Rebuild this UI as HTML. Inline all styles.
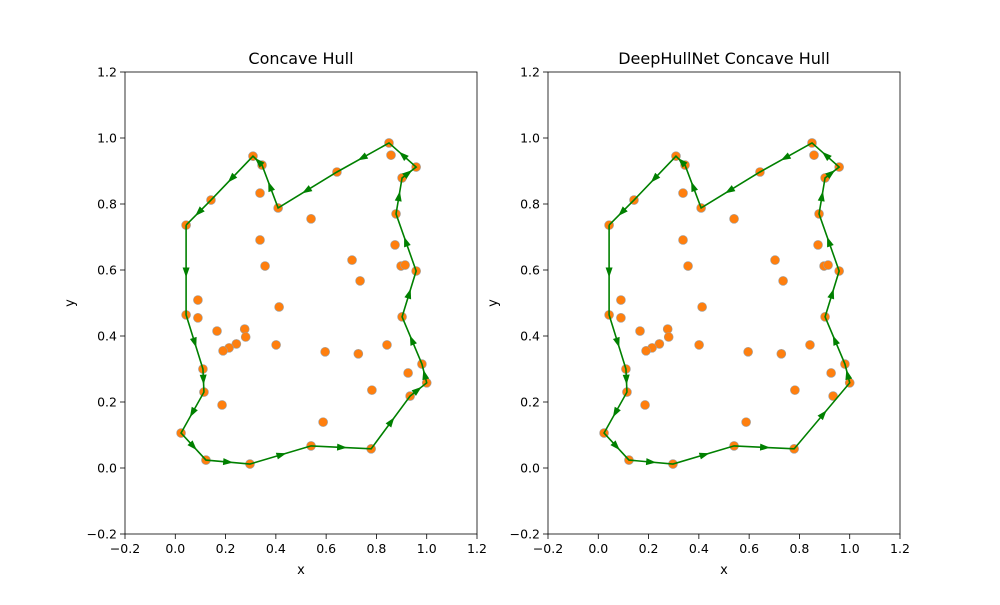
<!DOCTYPE html>
<html><head><meta charset="utf-8"><style>
body{margin:0;background:#fff}
svg{font-family:"DejaVu Sans","Liberation Sans",sans-serif}
</style></head><body>
<svg id="fig" width="1000" height="600" viewBox="0 0 1000 600" xmlns="http://www.w3.org/2000/svg">
<rect width="1000" height="600" fill="#fff"/>
</svg>
<script>
const pointsX=[0.043,0.142,0.309,0.345,0.337,0.409,0.337,0.357,0.540,0.643,0.850,0.858,0.958,0.902,0.878,0.874,0.898,0.914,0.958,0.902,0.703,0.735,0.413,0.090,0.090,0.043,0.166,0.276,0.280,0.243,0.214,0.190,0.401,0.596,0.728,0.842,0.981,1.000,0.926,0.934,0.782,0.110,0.114,0.186,0.023,0.122,0.297,0.540,0.588,0.779];
const pointsY=[0.736,0.812,0.945,0.918,0.833,0.788,0.691,0.612,0.755,0.897,0.985,0.948,0.912,0.879,0.770,0.676,0.612,0.615,0.597,0.458,0.630,0.567,0.488,0.509,0.455,0.464,0.415,0.421,0.397,0.376,0.364,0.355,0.373,0.352,0.346,0.373,0.315,0.258,0.288,0.218,0.236,0.300,0.230,0.191,0.106,0.024,0.012,0.067,0.139,0.058];
const hullLeft=[0,25,41,42,44,45,46,47,49,39,37,36,19,18,14,13,12,10,9,5,3,2,1,0];
const hullRight=[0,25,41,42,44,45,46,47,49,37,36,19,18,14,13,12,10,9,5,3,2,1,0];
const ticks=[-0.2,0.0,0.2,0.4,0.6,0.8,1.0,1.2];
const titles=["Concave Hull","DeepHullNet Concave Hull"];
const NS="http://www.w3.org/2000/svg";
const svgEl=document.getElementById('fig');
function mk(tag,attrs,parent){const e=document.createElementNS(NS,tag);for(const k in attrs)e.setAttribute(k,attrs[k]);(parent||svgEl).appendChild(e);return e;}
function fmt(t){return (t<0?'\u2212':'')+Math.abs(t).toFixed(1);}
const panels=[{x0:125,hull:hullLeft},{x0:548,hull:hullRight}];
const PW=352,PLOT_TOP=72,PH=462;
panels.forEach((p,pi)=>{
  const g=mk('g',{});
  
  
  const sx=v=>p.x0+(v+0.2)/1.4*PW;
  const sy=v=>PLOT_TOP+(1.2-v)/1.4*PH;
  ticks.forEach(t=>{
    const x=sx(t);
    mk('line',{x1:x,x2:x,y1:PLOT_TOP+PH,y2:PLOT_TOP+PH+5,stroke:'#000','stroke-width':0.8},g);
    const tx=mk('text',{x:x,y:PLOT_TOP+PH+19,'text-anchor':'middle','font-size':12.5},g);tx.textContent=fmt(t);
    
    
    const y=sy(t);
    mk('line',{x1:p.x0-5,x2:p.x0,y1:y,y2:y,stroke:'#000','stroke-width':0.8},g);
    const ty=mk('text',{x:p.x0-8,y:y+4.5,'text-anchor':'end','font-size':12.5},g);ty.textContent=fmt(t);
    
    
  });
  for(let i=0;i<pointsX.length;i++){
    const c=mk('circle',{cx:sx(pointsX[i]),cy:sy(pointsY[i]),r:4.5,fill:'#ff7f0e',stroke:'#a0a0a0','stroke-width':0.6},g);
    
    
  }
  const pts=p.hull.map(i=>[sx(pointsX[i]),sy(pointsY[i])]);
  const pl=mk('polyline',{points:pts.map(q=>q.join(',')).join(' '),fill:'none',stroke:'#008000','stroke-width':1.6},g);
  
  
  for(let k=0;k<pts.length-1;k++){
    const [x1,y1]=pts[k],[x2,y2]=pts[k+1];
    const dx=x2-x1,dy=y2-y1,L=Math.hypot(dx,dy);if(L<1)continue;
    const ux=dx/L,uy=dy/L;
    const tx=x1+dx*0.55+ux*3,ty=y1+dy*0.55+uy*3;
    const bx=tx-ux*10,by=ty-uy*10;
    const a=mk('polygon',{points:`${tx},${ty} ${bx-uy*3.5},${by+ux*3.5} ${bx+uy*3.5},${by-ux*3.5}`,fill:'#008000'},g);
    
    
  }
  const fr=mk('rect',{x:p.x0,y:PLOT_TOP,width:PW,height:PH,fill:'none',stroke:'#000','stroke-width':0.8},g);
  
  
  const t=mk('text',{x:p.x0+PW/2,y:PLOT_TOP-8,'text-anchor':'middle','font-size':16},g);t.textContent=titles[pi];
  
  
  const xl=mk('text',{x:p.x0+PW/2,y:574,'text-anchor':'middle','font-size':13},g);xl.textContent='x';
  
  
  const yl=mk('text',{x:0,y:0,'text-anchor':'middle','font-size':13,transform:`translate(${p.x0-51},${PLOT_TOP+PH/2}) rotate(-90)`},g);yl.textContent='y';
  
  
});
</script>
</body></html>
